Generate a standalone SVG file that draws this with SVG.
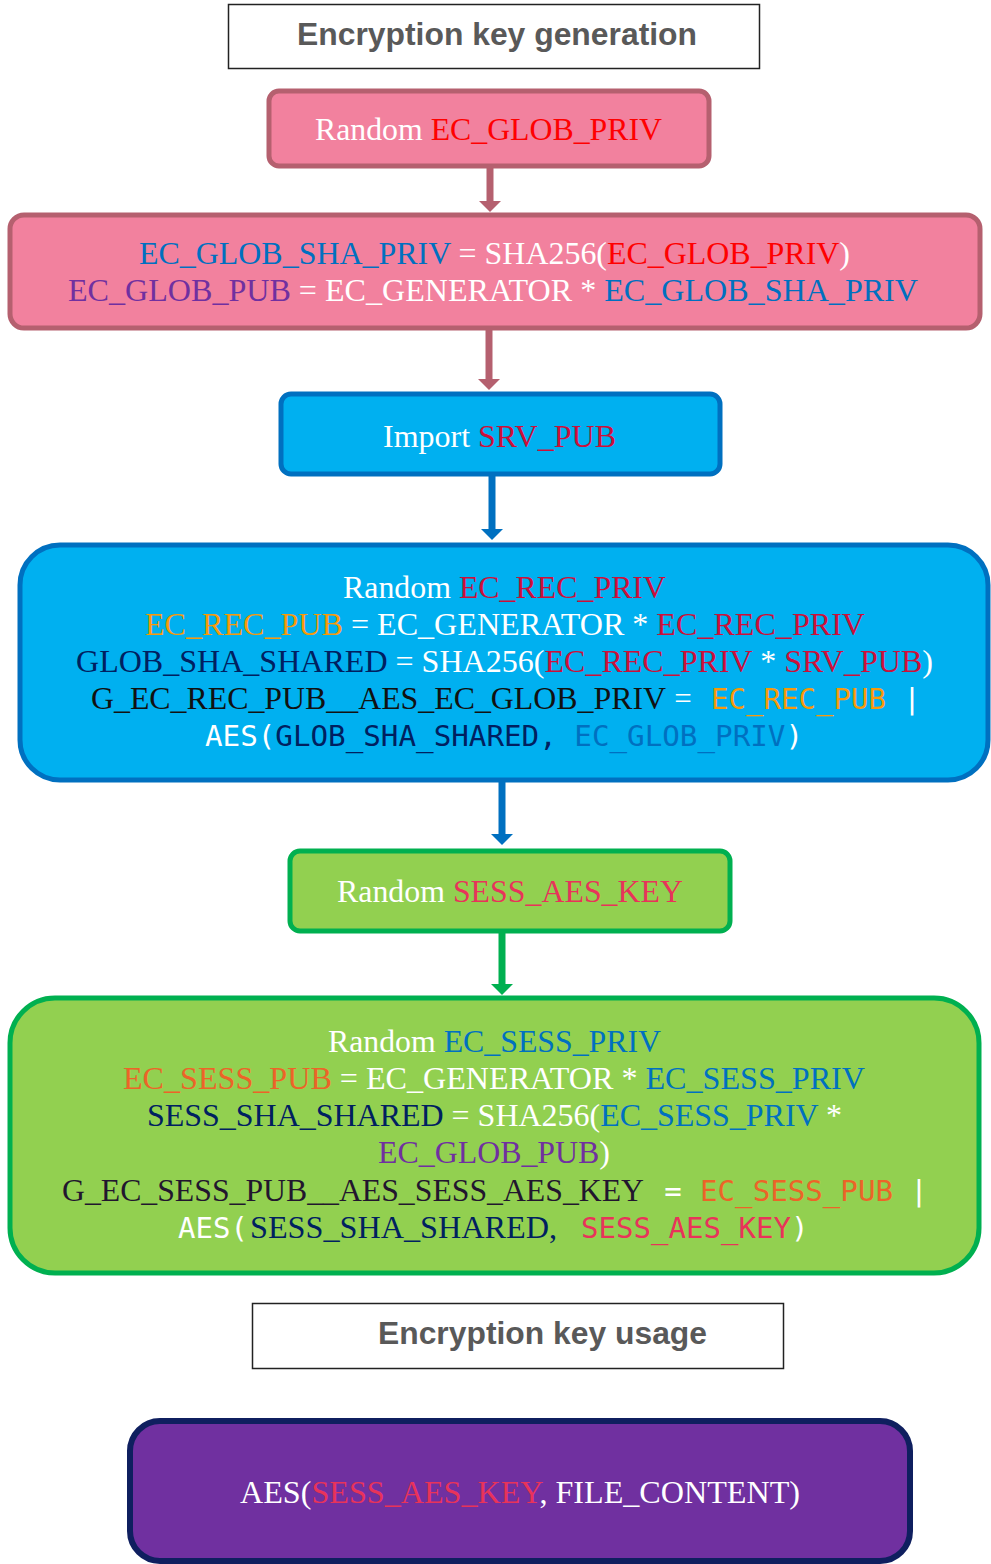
<svg xmlns="http://www.w3.org/2000/svg" width="991" height="1564" viewBox="0 0 991 1564">
<style>
.serif{font-family:"Liberation Serif","Times New Roman",serif;font-size:31px;}
.small{font-size:32px;}
.mono{font-family:"DejaVu Sans Mono","Liberation Mono",monospace;font-size:29px;}
.title{font-family:"Liberation Sans",Arial,sans-serif;font-size:32px;font-weight:bold;fill:#595959;}
.tbox{fill:#FFFFFF;stroke:#222222;stroke-width:1.5;}
.pink{fill:#F2819E;stroke:#B5606F;stroke-width:5;}
.blue{fill:#00B0F0;stroke:#0070C0;stroke-width:5;}
.green{fill:#92D050;stroke:#00B050;stroke-width:5;}
.purple{fill:#7030A0;stroke:#0F1F5F;stroke-width:6;}
.w{fill:#FFFFFF;}
.red{fill:#FF0000;}
.crim{fill:#CC0F3A;}
.bl{fill:#0070C0;}
.pu{fill:#7030A0;}
.or{fill:#F79A0B;}
.orr{fill:#EC6428;}
.nv{fill:#002060;}
.blk{fill:#111111;}
.dk{fill:#22162E;}
.rose{fill:#E8335A;}
.c-pink{stroke:#B5606F;stroke-width:7;fill:none;}
.c-blue{stroke:#0070C0;stroke-width:7;fill:none;}
.c-green{stroke:#00B050;stroke-width:7;fill:none;}
</style>
<defs>
<marker id="mPink" markerUnits="userSpaceOnUse" viewBox="0 0 11 22" markerWidth="11" markerHeight="22" refX="0" refY="11" orient="auto"><path d="M0,0 L11,11 L0,22 Z" fill="#B5606F"/></marker>
<marker id="mBlue" markerUnits="userSpaceOnUse" viewBox="0 0 11 22" markerWidth="11" markerHeight="22" refX="0" refY="11" orient="auto"><path d="M0,0 L11,11 L0,22 Z" fill="#0070C0"/></marker>
<marker id="mGreen" markerUnits="userSpaceOnUse" viewBox="0 0 11 22" markerWidth="11" markerHeight="22" refX="0" refY="11" orient="auto"><path d="M0,0 L11,11 L0,22 Z" fill="#00B050"/></marker>
</defs>
<rect width="991" height="1564" fill="#FFFFFF"/>

<g id="connectors">
<line class="c-pink" x1="490" y1="168" x2="490" y2="201" marker-end="url(#mPink)"/>
<line class="c-pink" x1="489" y1="330" x2="489" y2="379" marker-end="url(#mPink)"/>
<line class="c-blue" x1="492" y1="476" x2="492" y2="529" marker-end="url(#mBlue)"/>
<line class="c-blue" x1="502" y1="782" x2="502" y2="834" marker-end="url(#mBlue)"/>
<line class="c-green" x1="502" y1="932" x2="502" y2="984" marker-end="url(#mGreen)"/>
</g>

<g id="title-generation">
<rect class="tbox" x="228.5" y="4.5" width="531" height="64"/>
<text class="title" x="297" y="45" textLength="400" lengthAdjust="spacingAndGlyphs">Encryption key generation</text>
</g>

<g id="node-glob-priv">
<rect class="pink" x="269" y="91" width="440" height="75" rx="10"/>
<text class="serif small" x="315" y="140" textLength="347" lengthAdjust="spacingAndGlyphs"><tspan class="w">Random </tspan><tspan class="red">EC_GLOB_PRIV</tspan></text>
</g>

<g id="node-glob-pub">
<rect class="pink" x="10" y="215" width="970" height="113" rx="14"/>
<text class="serif" x="139" y="264" textLength="711" lengthAdjust="spacingAndGlyphs"><tspan class="bl">EC_GLOB_SHA_PRIV</tspan><tspan class="w"> = SHA256(</tspan><tspan class="red">EC_GLOB_PRIV</tspan><tspan class="w">)</tspan></text>
<text class="serif" x="68" y="301" textLength="850" lengthAdjust="spacingAndGlyphs"><tspan class="pu">EC_GLOB_PUB</tspan><tspan class="w"> = EC_GENERATOR * </tspan><tspan class="bl">EC_GLOB_SHA_PRIV</tspan></text>
</g>

<g id="node-srv-pub">
<rect class="blue" x="281" y="394" width="439" height="80" rx="10"/>
<text class="serif small" x="383" y="447" textLength="233" lengthAdjust="spacingAndGlyphs"><tspan class="w">Import </tspan><tspan class="crim">SRV_PUB</tspan></text>
</g>

<g id="node-rec">
<rect class="blue" x="20" y="545" width="968" height="235" rx="40"/>
<text class="serif" x="343" y="598" textLength="323" lengthAdjust="spacingAndGlyphs"><tspan class="w">Random </tspan><tspan class="crim">EC_REC_PRIV</tspan></text>
<text class="serif" x="145" y="635" textLength="720" lengthAdjust="spacingAndGlyphs"><tspan class="or">EC_REC_PUB</tspan><tspan class="w"> = EC_GENERATOR * </tspan><tspan class="crim">EC_REC_PRIV</tspan></text>
<text class="serif" x="76" y="672" textLength="857" lengthAdjust="spacingAndGlyphs"><tspan class="nv">GLOB_SHA_SHARED</tspan><tspan class="w"> = SHA256(</tspan><tspan class="crim">EC_REC_PRIV</tspan><tspan class="w"> * </tspan><tspan class="crim">SRV_PUB</tspan><tspan class="w">)</tspan></text>
<text class="serif blk" x="91" y="709" textLength="575" lengthAdjust="spacingAndGlyphs">G_EC_REC_PUB__AES_EC_GLOB_PRIV</text>
<text class="serif w" x="683" y="709" text-anchor="middle">=</text>
<text class="mono or" x="711" y="709" textLength="175" lengthAdjust="spacingAndGlyphs">EC_REC_PUB</text>
<text class="mono w" x="912" y="709" text-anchor="middle">|</text>
<text class="mono" x="205" y="746" textLength="598" lengthAdjust="spacingAndGlyphs"><tspan class="w">AES(</tspan><tspan class="nv">GLOB_SHA_SHARED, </tspan><tspan class="bl">EC_GLOB_PRIV</tspan><tspan class="w">)</tspan></text>
</g>

<g id="node-sess-key">
<rect class="green" x="290" y="851" width="440" height="80" rx="10"/>
<text class="serif small" x="337" y="902" textLength="346" lengthAdjust="spacingAndGlyphs"><tspan class="w">Random </tspan><tspan class="rose">SESS_AES_KEY</tspan></text>
</g>

<g id="node-sess">
<rect class="green" x="10" y="998" width="969" height="275" rx="45"/>
<text class="serif" x="328" y="1052" textLength="333" lengthAdjust="spacingAndGlyphs"><tspan class="w">Random </tspan><tspan class="bl">EC_SESS_PRIV</tspan></text>
<text class="serif" x="123" y="1089" textLength="742" lengthAdjust="spacingAndGlyphs"><tspan class="orr">EC_SESS_PUB</tspan><tspan class="w"> = EC_GENERATOR * </tspan><tspan class="bl">EC_SESS_PRIV</tspan></text>
<text class="serif" x="147" y="1126" textLength="695" lengthAdjust="spacingAndGlyphs"><tspan class="nv">SESS_SHA_SHARED</tspan><tspan class="w"> = SHA256(</tspan><tspan class="bl">EC_SESS_PRIV</tspan><tspan class="w"> *</tspan></text>
<text class="serif" x="378" y="1163" textLength="232" lengthAdjust="spacingAndGlyphs"><tspan class="pu">EC_GLOB_PUB</tspan><tspan class="w">)</tspan></text>
<text class="serif dk" x="62" y="1201" textLength="582" lengthAdjust="spacingAndGlyphs">G_EC_SESS_PUB__AES_SESS_AES_KEY</text>
<text class="mono w" x="673" y="1201" text-anchor="middle">=</text>
<text class="mono orr" x="700" y="1201" textLength="193" lengthAdjust="spacingAndGlyphs">EC_SESS_PUB</text>
<text class="mono w" x="919" y="1201" text-anchor="middle">|</text>
<text class="mono w" x="178" y="1238" textLength="70" lengthAdjust="spacingAndGlyphs">AES(</text>
<text class="serif nv" x="250" y="1238" textLength="307" lengthAdjust="spacingAndGlyphs">SESS_SHA_SHARED,</text>
<text class="mono rose" x="581" y="1238" textLength="210" lengthAdjust="spacingAndGlyphs">SESS_AES_KEY</text>
<text class="mono w" x="791" y="1238">)</text>
</g>

<g id="title-usage">
<rect class="tbox" x="252.5" y="1303.5" width="531" height="65"/>
<text class="title" x="378" y="1344" textLength="329" lengthAdjust="spacingAndGlyphs">Encryption key usage</text>
</g>

<g id="node-usage">
<rect class="purple" x="130" y="1421" width="780" height="140" rx="30"/>
<text class="serif small" x="240" y="1503" textLength="560" lengthAdjust="spacingAndGlyphs"><tspan class="w">AES(</tspan><tspan class="rose">SESS_AES_KEY</tspan><tspan class="w">, FILE_CONTENT)</tspan></text>
</g>
</svg>
